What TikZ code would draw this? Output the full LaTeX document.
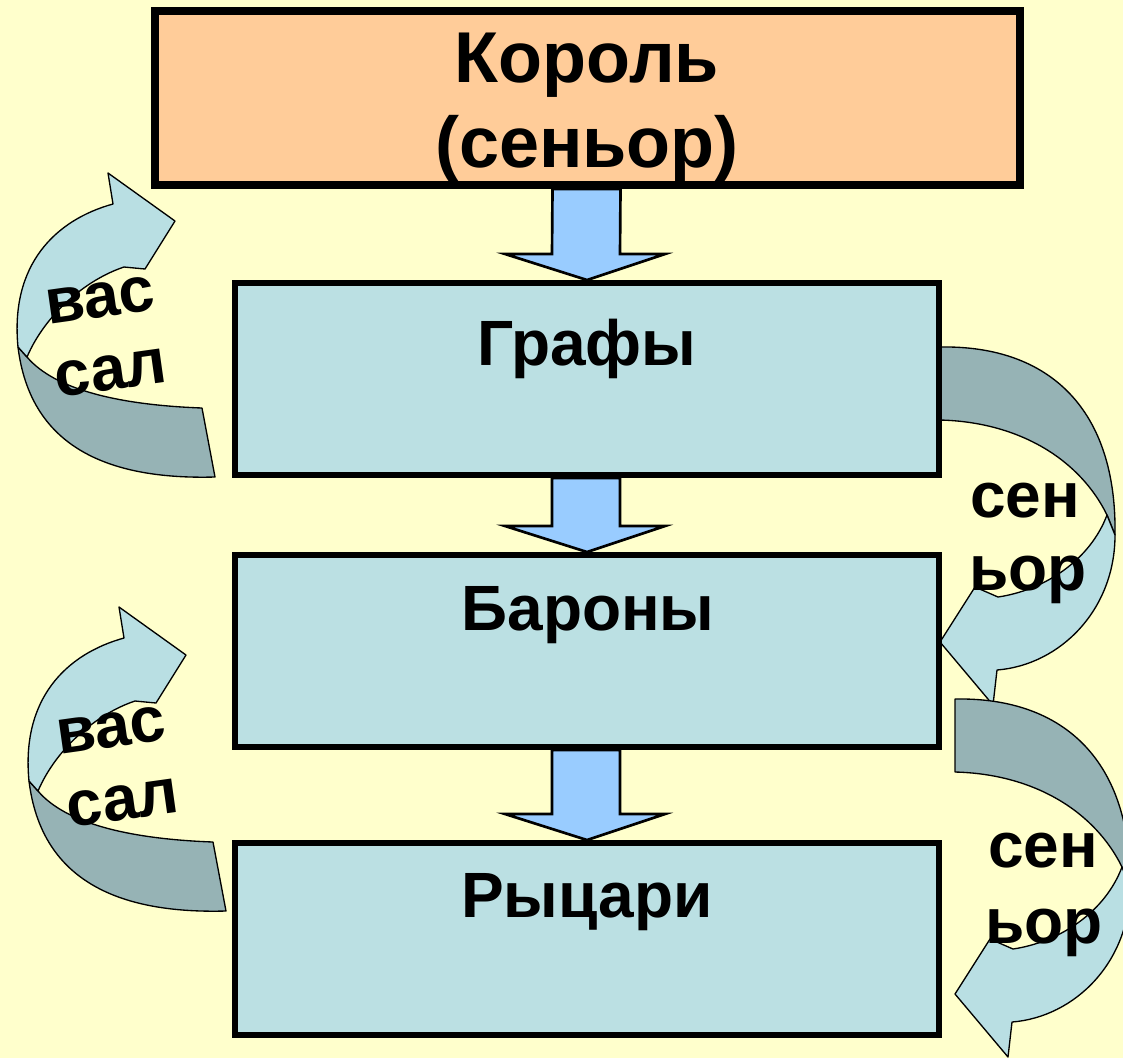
\documentclass[tikz,border=0pt]{standalone}
\usepackage{fontspec}
\setmainfont{Liberation Sans}
\usepackage{tikz}
\usetikzlibrary{calc}
\usetikzlibrary{positioning}

\definecolor{bgyellow}{HTML}{FFFFCC}
\definecolor{kingpeach}{HTML}{FFCC99}
\definecolor{boxblue}{HTML}{BBE0E3}
\definecolor{arrblue}{HTML}{99CCFF}
\definecolor{ribbonlight}{HTML}{B9DFE3}
\definecolor{ribbondark}{HTML}{96B3B5}

\begin{document}
\begin{tikzpicture}[x=0.75pt,y=0.75pt,yscale=-1,xscale=1]
  \tikzstyle{box} = [draw=black,line width=4.5pt,fill=boxblue,minimum width=528pt,minimum height=144pt,inner sep=0pt]
  \tikzstyle{kingbox} = [draw=black,line width=6pt,fill=kingpeach,minimum width=648.75pt,minimum height=130.5pt,inner sep=0pt]
  \tikzstyle{boxtext} = [font=\fontsize{48}{58}\selectfont\bfseries,anchor=base,inner sep=0pt]
  \tikzstyle{kingtext} = [font=\fontsize{54}{64}\selectfont\bfseries,anchor=base,inner sep=0pt]
  \tikzstyle{sidetext} = [font=\fontsize{48}{58}\selectfont\bfseries,inner sep=0pt]
  \tikzstyle{downarrow} = [draw=black,line width=2pt,fill=arrblue,line join=miter]
  \tikzstyle{ribbon} = [draw=black,line width=1pt,line join=round]
  %Draw the background
  \fill[bgyellow] (0,0) rectangle (1123,1058);
  \useasboundingbox (0,0) rectangle (1123,1058);

  %Draw the curved arrows on the left (vassal)
  \foreach \dx/\dy in {0/0,11/434}{
   \begin{scope}[shift={(\dx,\dy)}]
    \filldraw[ribbon,fill=ribbondark] (18,347) .. controls (30,445) and (105,480) .. (215,477) -- (202,408) .. controls (120,405) and (55,390) .. (27,357) -- cycle;
    \filldraw[ribbon,fill=ribbonlight] (113,204) .. controls (55,220) and (10,265) .. (18,347) -- (27,357) .. controls (45,315) and (85,280) .. (124,267) -- (145,269) -- (175,221) -- (108,173) -- cycle;
   \end{scope}
  }
  %Draw the curved arrows on the right (senior)
  \foreach \dx/\dy in {0/0,15/352}{
   \begin{scope}[shift={(\dx,\dy)}]
    \filldraw[ribbon,fill=ribbondark] (940,347) .. controls (1050,345) and (1117,410) .. (1115,535) -- (1107,515) .. controls (1080,460) and (1020,422) .. (940,420) -- cycle;
    \filldraw[ribbon,fill=ribbonlight] (1115,535) .. controls (1115,610) and (1060,665) .. (997,670) -- (993,705) -- (940,642) -- (975,587) -- (998,597) .. controls (1045,590) and (1090,560) .. (1107,515) -- cycle;
   \end{scope}
  }

  %Draw the boxes
  \node[kingbox] (korol) at (587.5,98) {};
  \node[box] (grafy) at (587,379) {};
  \node[box] (barony) at (587,651) {};
  \node[box] (rycari) at (587,939) {};

  % Label the boxes
  \node[kingtext] (korolA) at (587,82) {Король};
  \node[kingtext] (korolB) at (587,167) {(сеньор)};
  \node[boxtext] (grafyT) at (587,365) {Графы};
  \node[boxtext] (baronyT) at (588,630) {Бароны};
  \node[boxtext] (rycariT) at (587,917) {Рыцари};

  %Draw the down arrows
  \foreach \a/\b in {korol/grafy,grafy/barony,barony/rycari}{
   \draw[downarrow] ($(\a.south)+(-35,0)$) -- ($(\b.north)+(-35,-26)$) -- ($(\b.north)+(-82,-26)$) -- (\b.north) -- ($(\b.north)+(78,-26)$) -- ($(\b.north)+(33,-26)$) -- ($(\a.south)+(33,0)$) -- cycle;
  }

  % Label the curved arrows
  \node[sidetext,rotate=8] (vas1) at (100,300) {вас};
  \node[sidetext,rotate=8] (sal1) at (111,373) {сал};
  \node[sidetext,rotate=8] (vas2) at (111,730) {вас};
  \node[sidetext,rotate=8] (sal2) at (123,803) {сал};
  \node[sidetext,anchor=base] (sen1) at (1025,517) {сен};
  \node[sidetext,anchor=base] (jor1) at (1028,590) {ьор};
  \node[sidetext,anchor=base] (sen2) at (1043,867) {сен};
  \node[sidetext,anchor=base] (jor2) at (1044,943) {ьор};
\end{tikzpicture}
\end{document}
